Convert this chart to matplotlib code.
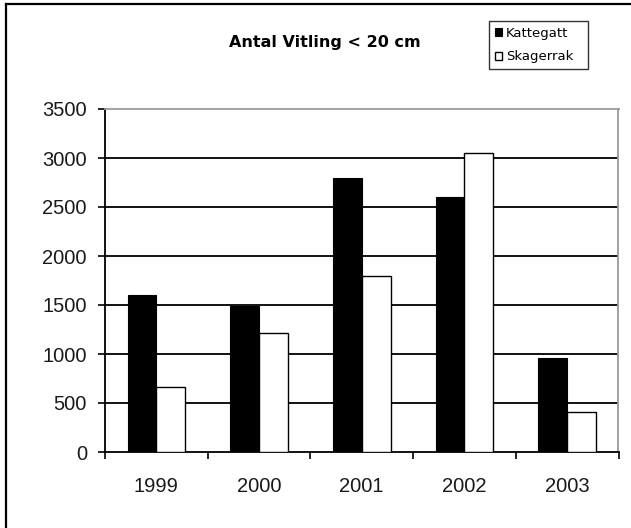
import numpy as np
import matplotlib
matplotlib.use("Agg")
import matplotlib.pyplot as plt
from matplotlib.patches import Patch
from matplotlib.lines import Line2D

# Antal vitling under 20 cm per år
years = ["1999", "2000", "2001", "2002", "2003"]
kattegatt = [1600, 1490, 2800, 2600, 960]
skagerrak = [660, 1210, 1800, 3050, 405]
yticks = [0, 500, 1000, 1500, 2000, 2500, 3000, 3500]

W, H = 631, 528
fig = plt.figure(figsize=(W / 100, H / 100), dpi=100)
fig.patch.set_facecolor("white")

# plot area in pixel coordinates
x0, x1, y0, y1 = 105, 618.5, 109, 452
ax = fig.add_axes([x0 / W, (H - y1) / H, (x1 - x0) / W, (y1 - y0) / H])

x = np.arange(len(years))
w = 0.28
ax.bar(x - w / 2, kattegatt, w, color="black", edgecolor="black", lw=0.8, zorder=3)
ax.bar(x + w / 2, skagerrak, w, color="white", edgecolor="black", lw=1.0, zorder=3)

ax.set_xlim(-0.5, len(years) - 0.5)
ax.set_ylim(0, 3500)

# horizontal grid
for v in yticks[1:-1]:
    ax.axhline(v, color="#111111", lw=1.4, zorder=1)

ax.spines["left"].set_color("black")
ax.spines["bottom"].set_color("black")
ax.spines["left"].set_linewidth(1.3)
ax.spines["bottom"].set_linewidth(1.3)
ax.spines["top"].set_color("#999999")
ax.spines["right"].set_color("#999999")
ax.spines["top"].set_linewidth(1.3)
ax.spines["right"].set_linewidth(1.3)

ax.set_yticks(yticks)
ax.set_yticklabels([str(v) for v in yticks], family="Liberation Sans", fontsize=14.5, color="#1a1a1a")
ax.tick_params(axis="y", direction="out", length=5, width=1.2, pad=8)

ax.set_xticks(x)
ax.set_xticklabels(years, family="Liberation Sans", fontsize=14.5, color="#1a1a1a")
ax.set_xticks(np.arange(len(years) + 1) - 0.5, minor=True)
ax.tick_params(axis="x", which="major", length=0, pad=18)
ax.tick_params(axis="x", which="minor", direction="out", length=5, width=1.2)

fig.text(324.5 / W, 1 - 43 / H, "Antal Vitling < 20 cm", ha="center", va="center",
         family="DejaVu Sans", fontweight="bold", fontsize=11.5)

handles = [Patch(facecolor="black", edgecolor="black", lw=0.8),
           Patch(facecolor="white", edgecolor="black", lw=1.0)]
leg = fig.legend(handles, ["Kattegatt", "Skagerrak"],
                 loc="upper left", mode="expand",
                 bbox_to_anchor=(489 / W, 1 - 75 / H, 99 / W, 54 / H),
                 borderaxespad=0, frameon=True, fancybox=False,
                 handlelength=0.55, handleheight=0.55, handletextpad=0.3,
                 labelspacing=0.8, borderpad=0.45,
                 prop={"family": "DejaVu Sans", "size": 9.5})
leg.get_frame().set_edgecolor("black")
leg.get_frame().set_linewidth(1.0)

# outer frame, left and top edges
fig.add_artist(Line2D([6 / W, 6 / W], [0, 1 - 4 / H], transform=fig.transFigure, color="black", lw=1.6))
fig.add_artist(Line2D([6 / W, 1], [1 - 4 / H, 1 - 4 / H], transform=fig.transFigure, color="black", lw=1.6))

fig.savefig("out.png", dpi=100)
